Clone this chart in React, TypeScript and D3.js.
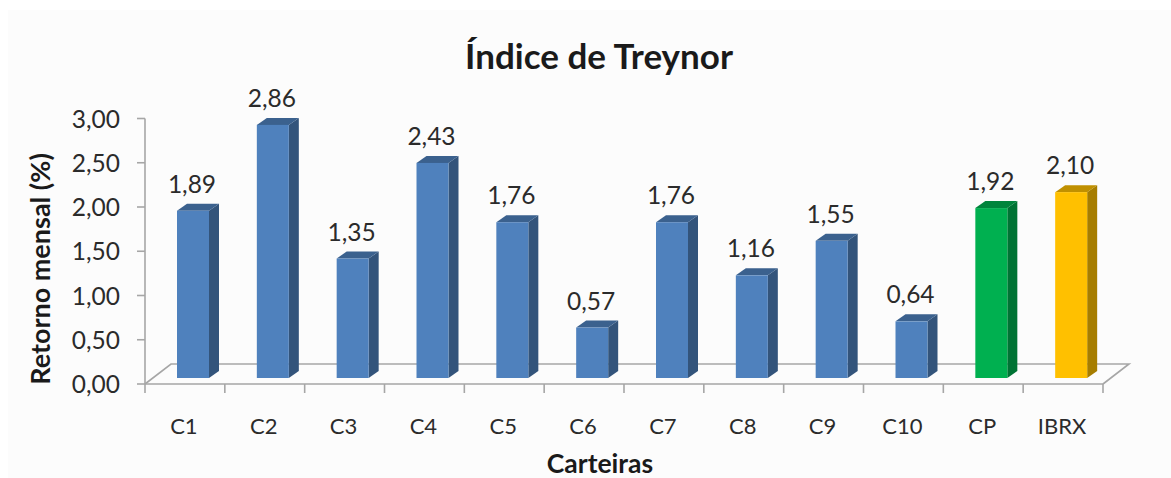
import React from 'react';
import * as d3 from 'd3';

const categorias = ['C1', 'C2', 'C3', 'C4', 'C5', 'C6', 'C7', 'C8', 'C9', 'C10', 'CP', 'IBRX'];
const valores = [1.89, 2.86, 1.35, 2.43, 1.76, 0.57, 1.76, 1.16, 1.55, 0.64, 1.92, 2.1];
const cores = ['#4f81bd', '#4f81bd', '#4f81bd', '#4f81bd', '#4f81bd', '#4f81bd', '#4f81bd', '#4f81bd', '#4f81bd', '#4f81bd', '#00b050', '#ffc000'];
const ticksY = [0, 0.5, 1, 1.5, 2, 2.5, 3];

const largura = 1171;
const altura = 478;
const fonte = 'Lato, "Open Sans", sans-serif';
const corEixo = '#a6a6a6';
const corTexto = '#2b2b2b';

// profundidade do "chão" 3D do gráfico
const chaoX = 26;
const chaoY = 20;
const barraDx = 10;
const barraDy = 7;

const formato = (v: number) => v.toFixed(2).replace('.', ',');

export default function App() {
  const x = d3.scaleBand<string>().domain(categorias).range([145, 1103]);
  const y = d3.scaleLinear().domain([0, 3]).range([384, 118.5]);
  const yBarra = (v: number) => y(v) - 6;
  const larguraBarra = 32;
  const xBarra = (c: string) => (x(c) as number) + 32;
  const linha = d3.line();
  const y0 = y(0);
  const xFim = x.range()[1];

  return (
    <svg
      width={largura}
      height={altura}
      style={{ position: 'absolute', left: 0, top: 0, background: '#ffffff' }}
      fontFamily={fonte}
    >
      <rect x={8} y={10} width={1163} height={468} fill="#fcfcfc" />

      {/* chão */}
      <path
        d={linha([[145, y0], [145 + chaoX, y0 - chaoY], [xFim + chaoX, y0 - chaoY], [xFim, y0]]) as string}
        fill="none"
        stroke={corEixo}
        strokeWidth={1.6}
      />

      {/* eixo Y */}
      <line x1={145} x2={145} y1={y(3)} y2={y0} stroke={corEixo} strokeWidth={1.6} />
      {ticksY.map((t) => (
        <g key={t}>
          <line x1={137} x2={145} y1={y(t)} y2={y(t)} stroke={corEixo} strokeWidth={1.6} />
          <text x={120} y={y(t) + 9} textAnchor="end" fontSize={24.5} fill={corTexto}>
            {formato(t)}
          </text>
        </g>
      ))}

      {/* eixo X */}
      <line x1={145} x2={xFim} y1={y0} y2={y0} stroke={corEixo} strokeWidth={1.6} />
      {[...categorias.map((c) => x(c) as number), xFim].map((p) => (
        <line key={p} x1={p} x2={p} y1={y0} y2={y0 + 9} stroke={corEixo} strokeWidth={1.6} />
      ))}
      {categorias.map((c) => (
        <text key={c} x={(x(c) as number) + x.bandwidth() / 2 - 1} y={434} textAnchor="middle" fontSize={22} fill={corTexto}>
          {c}
        </text>
      ))}

      {/* barras */}
      {categorias.map((c, i) => {
        const cor = cores[i];
        const x0 = xBarra(c);
        const topo = yBarra(valores[i]);
        const base = yBarra(0);
        const x1 = x0 + larguraBarra;
        return (
          <g key={c}>
            <path
              d={linha([[x1, topo], [x1 + barraDx, topo - barraDy], [x1 + barraDx, base - barraDy], [x1, base]]) + 'Z'}
              fill={d3.color(cor)!.darker(1.2).formatHex()}
            />
            <path
              d={linha([[x0, topo], [x0 + barraDx, topo - barraDy], [x1 + barraDx, topo - barraDy], [x1, topo]]) + 'Z'}
              fill={d3.color(cor)!.darker(0.8).formatHex()}
            />
            <rect x={x0} y={topo} width={larguraBarra} height={base - topo} fill={cor} />
            <text x={x0 + 15} y={topo - 18} textAnchor="middle" fontSize={24.5} fill={corTexto}>
              {formato(valores[i])}
            </text>
          </g>
        );
      })}

      {/* títulos */}
      <text x={599} y={69} textAnchor="middle" fontSize={35} fontWeight={700} fill="#1a1a1a">
        Índice de Treynor
      </text>
      <text
        transform="translate(50,269) rotate(-90)"
        textAnchor="middle"
        fontSize={27}
        fontWeight={700}
        fill="#1a1a1a"
      >
        Retorno mensal (%)
      </text>
      <text x={600} y={473} textAnchor="middle" fontSize={26.5} fontWeight={700} fill="#1a1a1a">
        Carteiras
      </text>
    </svg>
  );
}
